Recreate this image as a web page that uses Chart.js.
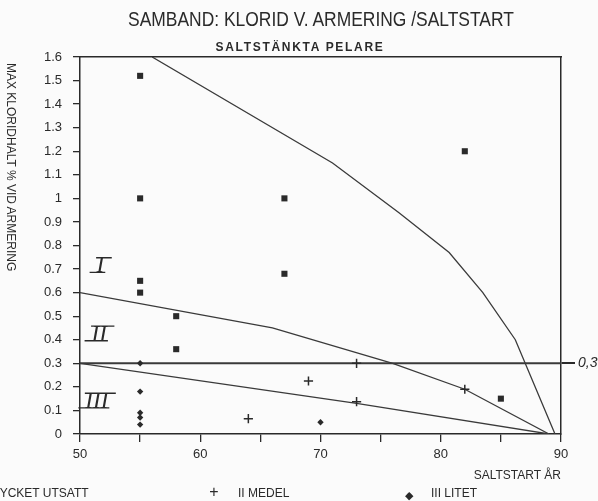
<!DOCTYPE html>
<html>
<head>
<meta charset="utf-8">
<script src="https://cdn.jsdelivr.net/npm/chart.js@4"></script>
<style>
  body { margin: 0; width: 598px; height: 501px; overflow: hidden; background: #fbfbfb; position: relative; font-family: "Liberation Sans", Arial, sans-serif; color: #2a2a2a; }
  #wrap { position: absolute; left: 0; top: 0; width: 598px; height: 501px; }
  .title { position: absolute; left: 321px; top: 8px; font-size: 21px; line-height: 21px; white-space: nowrap; transform: translateX(-50%) scaleX(0.83); }
  .subtitle { position: absolute; left: 300px; top: 41px; font-size: 12px; line-height: 12px; font-weight: bold; letter-spacing: 1.7px; white-space: nowrap; transform: translateX(-50%); }
  .ytitle { position: absolute; left: 5px; top: 63px; font-size: 12px; line-height: 12px; writing-mode: vertical-rl; white-space: nowrap; }
  .legend-item { position: absolute; top: 486px; font-size: 12px; line-height: 14px; white-space: nowrap; }
  .legend-mark { position: absolute; top: 484px; font-size: 16px; line-height: 16px; transform: translateX(-50%); }
</style>
</head>
<body>
<div id="wrap"><canvas id="chart" width="598" height="501"></canvas></div>
<div class="title">SAMBAND: KLORID V. ARMERING /SALTSTART</div>
<div class="subtitle">SALTSTÄNKTA PELARE</div>
<div class="ytitle">MAX KLORIDHALT % VID ARMERING</div>
<div id="legend"></div>
<script>
// points: saltstart year vs max chloride content
const squareX = [55, 55, 55, 55, 58, 58, 67, 67, 82, 85];
const squareY = [1.52, 1.0, 0.65, 0.60, 0.50, 0.36, 1.0, 0.68, 1.2, 0.15];
const plusX = [64, 69, 73, 73, 82];
const plusY = [0.065, 0.225, 0.30, 0.137, 0.19];
const diamondX = [55, 55, 55, 55, 55, 70];
const diamondY = [0.30, 0.18, 0.09, 0.07, 0.04, 0.05];

// zone boundary lines
const bound1X = [56, 71, 76.5, 80.7, 83.5, 86.2, 89.5];
const bound1Y = [1.6, 1.15, 0.94, 0.77, 0.6, 0.4, 0];
const bound2X = [50, 66, 76, 82, 89];
const bound2Y = [0.6, 0.45, 0.3, 0.19, 0];
const bound3X = [50, 73, 89];
const bound3Y = [0.3, 0.13, 0];
const limitX = [50, 90];
const limitY = [0.3, 0.3];

const seriesLabels = ['I MYCKET UTSATT', 'II MEDEL', 'III LITET'];
const zoneLabels = ['I', 'II', 'III'];
const zoneX = [51.7, 51.6, 51.4];
const zoneY = [0.72, 0.43, 0.145];

const limitLabel = '0,3';
const xTitle = 'SALTSTART ÅR';

const ink = '#2a2a2a';
const lineInk = '#3a3a3a';

const toXY = (xs, ys) => xs.map((x, i) => ({ x: x, y: ys[i] }));

const lineSet = (xs, ys, w) => ({
    type: 'line',
    data: toXY(xs, ys),
    borderColor: lineInk,
    borderWidth: w,
    pointRadius: 0,
    fill: false,
    tension: 0,
    showLine: true
});

// roman numerals in the zones, drawn with a bar above and below
const zonePlugin = {
    id: 'zoneLabels',
    afterDatasetsDraw(chart) {
        const ctx = chart.ctx;
        const xs = chart.scales.x, ys = chart.scales.y;
        ctx.save();
        ctx.fillStyle = ink;
        ctx.strokeStyle = ink;
        ctx.lineWidth = 1.4;
        ctx.font = 'italic 23px "Liberation Serif", serif';
        ctx.textAlign = 'center';
        ctx.textBaseline = 'alphabetic';
        zoneLabels.forEach((t, i) => {
            const px = xs.getPixelForValue(zoneX[i]);
            const py = ys.getPixelForValue(zoneY[i]);
            ctx.fillText(t, px, py + 8);
            const w = ctx.measureText(t).width + 8;
            ctx.beginPath();
            ctx.moveTo(px - w / 2 + 3.5, py - 6.6);
            ctx.lineTo(px + w / 2 + 3.5, py - 6.6);
            ctx.moveTo(px - w / 2 - 3, py + 8);
            ctx.lineTo(px + w / 2 - 3, py + 8);
            ctx.stroke();
        });
        ctx.restore();
    }
};

// html legend built from the marker datasets
const legendPos = [[-41, -17], [214, 238], [409, 431]];
const legendGlyph = ['■', '+', '◆'];
const htmlLegend = {
    id: 'htmlLegend',
    afterUpdate(chart) {
        const box = document.getElementById('legend');
        box.innerHTML = '';
        chart.data.datasets.filter(d => d.label).forEach((d, i) => {
            const m = document.createElement('span');
            m.className = 'legend-mark';
            m.style.left = legendPos[i][0] + 'px';
            if (i === 2) { m.style.fontSize = '11px'; m.style.top = '487px'; }
            m.textContent = legendGlyph[i];
            const t = document.createElement('span');
            t.className = 'legend-item';
            t.style.left = legendPos[i][1] + 'px';
            t.textContent = d.label;
            box.appendChild(m);
            box.appendChild(t);
        });
    }
};

const ctx = document.getElementById('chart').getContext('2d');
new Chart(ctx, {
    type: 'scatter',
    data: {
        datasets: [
            {
                label: seriesLabels[0],
                data: toXY(squareX, squareY),
                pointStyle: 'rect',
                pointRadius: 4.3,
                backgroundColor: ink,
                borderWidth: 0
            },
            {
                label: seriesLabels[1],
                data: toXY(plusX, plusY),
                pointStyle: 'cross',
                pointRadius: 4.6,
                borderColor: ink,
                borderWidth: 1.5
            },
            {
                label: seriesLabels[2],
                data: toXY(diamondX, diamondY),
                pointStyle: 'rectRot',
                pointRadius: 3.2,
                backgroundColor: ink,
                borderWidth: 0
            },
            lineSet(bound1X, bound1Y, 1.3),
            lineSet(bound2X, bound2Y, 1.3),
            lineSet(bound3X, bound3Y, 1.3),
            lineSet(limitX, limitY, 2)
        ]
    },
    options: {
        responsive: false,
        devicePixelRatio: 1,
        animation: false,
        layout: { padding: { top: 57, left: 0, right: 0, bottom: 0 } },
        plugins: {
            legend: { display: false },
            tooltip: { enabled: false }
        },
        scales: {
            x: {
                type: 'linear',
                position: 'bottom',
                min: 50,
                max: 90,
                afterFit: axis => { axis.height = 67; },
                ticks: {
                    stepSize: 5,
                    autoSkip: false,
                    maxRotation: 0,
                    padding: 5,
                    color: ink,
                    font: { family: 'Liberation Sans', size: 13 },
                    callback: v => (v % 10 === 0 ? String(v) : '')
                },
                grid: { drawOnChartArea: false, tickLength: 8, color: ink, lineWidth: 1.3 },
                border: { display: true, color: ink, width: 1.5 },
                title: {
                    display: true,
                    text: xTitle,
                    align: 'end',
                    color: ink,
                    font: { family: 'Liberation Sans', size: 12 },
                    padding: { top: 0, bottom: 18 }
                }
            },
            x2: {
                type: 'linear',
                position: 'top',
                min: 50,
                max: 90,
                afterFit: axis => { axis.height = 0; },
                ticks: { display: false },
                grid: { display: true, drawOnChartArea: false, drawTicks: false },
                border: { display: true, color: ink, width: 1.5 }
            },
            y: {
                type: 'linear',
                position: 'left',
                min: 0,
                max: 1.6,
                afterFit: axis => { axis.width = 80; },
                ticks: {
                    stepSize: 0.1,
                    autoSkip: false,
                    padding: 11,
                    color: ink,
                    font: { family: 'Liberation Sans', size: 13 },
                    callback: v => Number(v.toFixed(1)).toString()
                },
                grid: { drawOnChartArea: false, tickLength: 7, color: ink, lineWidth: 1.3 },
                border: { display: true, color: ink, width: 1.5 }
            },
            y2: {
                type: 'linear',
                position: 'right',
                min: 0,
                max: 1.6,
                afterFit: axis => { axis.width = 37; },
                afterBuildTicks: axis => { axis.ticks = [{ value: limitY[0] }]; },
                ticks: {
                    padding: 3,
                    color: ink,
                    font: { family: 'Liberation Sans', size: 14, style: 'italic' },
                    callback: () => limitLabel
                },
                grid: { drawOnChartArea: false, tickLength: 14, color: ink, lineWidth: 2 },
                border: { display: true, color: ink, width: 1.5 }
            }
        }
    },
    plugins: [zonePlugin, htmlLegend]
});
</script>
</body>
</html>
